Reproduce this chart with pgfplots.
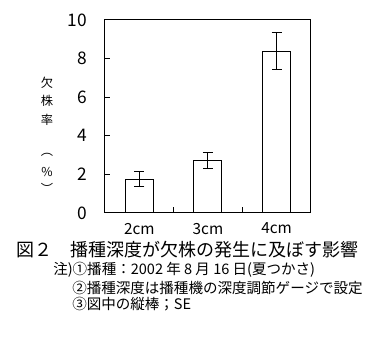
\documentclass[border=0pt]{standalone}
\usepackage{pgfplots}
\pgfplotsset{compat=1.18}
\usepackage{fontspec}
\setmainfont{Noto Sans CJK JP}
\begin{document}
\begin{tikzpicture}
\path[use as bounding box] (0pt,0pt) rectangle (282pt,255.75pt);
\begin{axis}[
  at={(78.75pt,96pt)}, anchor=south west,
  scale only axis, width=154.5pt, height=144.75pt,
  ybar, bar width=21pt,
  xmin=-0.5, xmax=2.5, ymin=0, ymax=10,
  xtick={0,1,2}, xticklabels={2cm,3cm,4cm},
  minor xtick={0.5,1.5},
  ytick={0,2,4,6,8,10},
  xtick pos=bottom, ytick pos=left,
  tick align=inside,
  major x tick style={draw=none},
  major tick length=3.75pt, minor tick length=4.5pt,
  tick style={black, line width=0.75pt},
  axis line style={line width=0.75pt},
  /pgf/number format/assume math mode=true,
  ticklabel style={font=\fontsize{13}{13}\selectfont},
  yticklabel style={xshift=-10pt},
  xticklabel style={font=\fontsize{11.5}{11.5}\selectfont, yshift=-4pt},
]
\addplot[draw=black, fill=white, line width=0.75pt,
  error bars/.cd, y dir=both, y explicit,
  error bar style={line width=0.75pt},
  error mark options={rotate=90, mark size=3.75pt, line width=0.75pt}]
  coordinates {(0,1.75) +- (0,0.38) (1,2.73) +- (0,0.42) (2,8.39) +- (0,0.98)};
\end{axis}
\begin{scope}[x=0.75pt,y=0.75pt]
\begin{scope}[every node/.style={font=\fontsize{9.2}{9.2}\selectfont, inner sep=0pt}]
\node at (47,341-83) {欠};
\node at (47,341-101) {株};
\node at (47,341-120) {率};
\node at (47,341-155) {︵};
\node at (47,341-172) {\%};
\node at (47,341-188) {︶};
\end{scope}
\node[font=\fontsize{13.5}{13.5}\selectfont, inner sep=0pt] at (187.5,341-250) {図２　播種深度が欠株の発生に及ぼす影響};
\begin{scope}[every node/.style={font=\fontsize{10.9}{10.9}\selectfont, inner sep=0pt, anchor=west}]
\node at (53,341-270) {注)①播種：2002 年 8 月 16 日(夏つかさ)};
\node at (72,341-288) {②播種深度は播種機の深度調節ゲージで設定};
\node at (72,341-304) {③図中の縦棒；SE};
\end{scope}
\end{scope}
\end{tikzpicture}
\end{document}
